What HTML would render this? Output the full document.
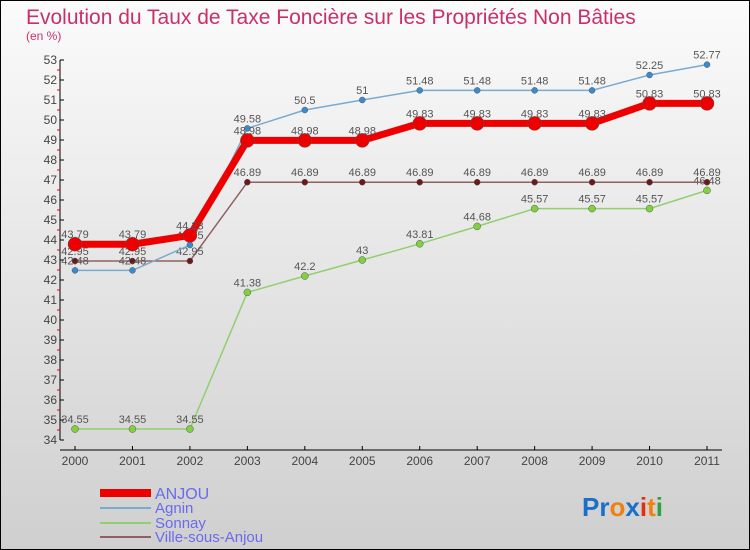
<!DOCTYPE html>
<html><head><meta charset="utf-8"><style>
body{margin:0}
svg{display:block;font-family:"Liberation Sans",sans-serif}
</style></head><body>
<svg id="c" width="750" height="550" viewBox="0 0 750 550">
<defs><linearGradient id="bg" x1="0" y1="0" x2="0" y2="1"><stop offset="0" stop-color="#fbfbfb"/><stop offset="1" stop-color="#cfcfcf"/></linearGradient></defs>
<rect x="0.5" y="0.5" width="749" height="549" fill="url(#bg)" stroke="#000"/>
<text x="26" y="24" font-size="21" fill="#c8306a">Evolution du Taux de Taxe Foncière sur les Propriétés Non Bâties</text>
<text x="26" y="40" font-size="12" fill="#c8306a">(en %)</text>
<g id="axes"></g>
<g id="series"></g>
<g>
<rect x="100" y="489" width="51" height="8" fill="#e00"/>
<text x="155" y="499" font-size="16" fill="#6a6aee">ANJOU</text>
<line x1="100" y1="508" x2="151" y2="508" stroke="#7aaad0" stroke-width="2"/>
<text x="155" y="513" font-size="15" fill="#6a6aee">Agnin</text>
<line x1="100" y1="523" x2="151" y2="523" stroke="#90d070" stroke-width="2"/>
<text x="155" y="528" font-size="15" fill="#6a6aee">Sonnay</text>
<line x1="100" y1="537" x2="151" y2="537" stroke="#906060" stroke-width="2"/>
<text x="155" y="542" font-size="15" fill="#6a6aee">Ville-sous-Anjou</text>
</g>
<g font-size="26" font-weight="bold">
<text x="582" y="516"><tspan fill="#1a70c8">Pr</tspan><tspan fill="#f08010">o</tspan><tspan fill="#1a70c8">x</tspan><tspan fill="#e03010">i</tspan><tspan fill="#f08010">t</tspan><tspan fill="#30a040">i</tspan></text>
</g>
</svg>
<script>
const years=["2000","2001","2002","2003","2004","2005","2006","2007","2008","2009","2010","2011"];
const anjou=[43.79,43.79,44.23,48.98,48.98,48.98,49.83,49.83,49.83,49.83,50.83,50.83];
const agnin=[42.48,42.48,43.75,49.58,50.5,51,51.48,51.48,51.48,51.48,52.25,52.77];
const sonnay=[34.55,34.55,34.55,41.38,42.2,43,43.81,44.68,45.57,45.57,45.57,46.48];
const ville=[42.95,42.95,42.95,46.89,46.89,46.89,46.89,46.89,46.89,46.89,46.89,46.89];
const yMin=34,yMax=53;
const NS="http://www.w3.org/2000/svg";
const X=i=>75+i*(707-75)/(years.length-1);
const Y=v=>440-(v-yMin)*(380/(yMax-yMin));
function mk(t,a,p){const e=document.createElementNS(NS,t);for(const k in a)e.setAttribute(k,a[k]);p.appendChild(e);return e;}
const ax=document.getElementById('axes');
const ya=mk('line',{x1:60,y1:Y(yMax),x2:60,y2:Y(yMin),stroke:'#000'},ax);


for(let v=yMin;v<=yMax;v++){
 mk('line',{x1:60,y1:Y(v),x2:64,y2:Y(v),stroke:'#000'},ax);
 if(v<yMax)mk('line',{x1:57,y1:Y(v+0.5),x2:60,y2:Y(v+0.5),stroke:'#e00'},ax);
 const t=mk('text',{x:57,y:Y(v)+4,'font-size':12,fill:'#444','text-anchor':'end'},ax);t.textContent=v;
 
 
}
const xa=mk('line',{x1:60,y1:450,x2:722,y2:450,stroke:'#000'},ax);


years.forEach((y,i)=>{
 mk('line',{x1:X(i),y1:446,x2:X(i),y2:450,stroke:'#000'},ax);
 const t=mk('text',{x:X(i),y:465,'font-size':12,fill:'#444','text-anchor':'middle'},ax);t.textContent=y;
 
 
});
const sg=document.getElementById('series');
function series(d,name,col,w,r,dot){
 const g=mk('g',{},sg);
 
 
 mk('polyline',{points:d.map((v,i)=>X(i)+','+Y(v)).join(' '),fill:'none',stroke:col,'stroke-width':w},g);
 d.forEach((v,i)=>{
  const c=mk('circle',{cx:X(i),cy:Y(v),r:r,fill:dot,stroke:'#555','stroke-width':0.5},g);
  
  
  const t=mk('text',{x:X(i),y:Y(v)-6,'font-size':11,fill:'#555','text-anchor':'middle'},g);t.textContent=v;
 });
}
series(sonnay,'sonnay','#90d070',1.5,3.5,'#80d040');
series(ville,'ville-sous-anjou','#906060',1.5,3,'#6a1a1a');
series(agnin,'agnin','#7aaad0',1.5,3,'#3a8ad0');
series(anjou,'anjou','#e00',7,7,'#e00');
</script>
</body></html>
